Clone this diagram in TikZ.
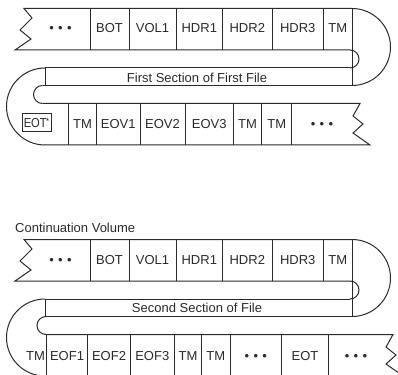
\documentclass[tikz,border=0pt]{standalone}
\usepackage{fontspec}
\setmainfont{Liberation Sans}
\newfontfamily\narrowfont{Liberation Sans}[FakeStretch=0.86]
\definecolor{ink}{HTML}{2A2A2A}
\newcommand\tdots{•\hspace{4.4pt}•\hspace{4.4pt}•}
\begin{document}
\begin{tikzpicture}[x=1pt,y=-1pt,
  tape/.style={draw=ink, line width=1pt, line join=miter},
  lbl/.style={anchor=base, inner sep=0pt, text=ink, font=\fontsize{13}{15}\selectfont},
  eotbox/.style={draw=ink, line width=0.9pt, inner sep=1pt, minimum width=29pt, minimum height=18pt, text=ink, font=\narrowfont\fontsize{13}{15}\selectfont}]
\useasboundingbox (0,0) rectangle (398,374);
\clip (0,0) rectangle (398,374);
% ================= Block 1 =================
\draw[tape] (352,8.5) -- (24,8.5) -- (32,18) -- (20,30) -- (31,39) -- (15,50) -- (350,50);
\draw[tape] (352,8.5) arc[start angle=-90, end angle=90, radius=38.5];
\draw[tape] (352,8.5) -- (352,85.5);
\draw[tape] (350,50) arc[start angle=-90, end angle=90, radius=9];
\draw[tape] (350,68) -- (45,68) -- (45,85.5);
\draw[tape] (42.5,85.5) -- (352,85.5);
\draw[tape] (45,68) arc[start angle=270, end angle=90, radius=38.5];
\draw[tape] (42.5,85.5) arc[start angle=270, end angle=90, radius=9];
\draw[tape] (42.5,103.5) -- (360,103.5) -- (353,116) -- (363,124) -- (353,133) -- (370,145) -- (45,145);
\foreach \x in {90,129,176,222.7,272,323.3} \draw[tape] (\x,8.5) -- (\x,50);
\foreach \x in {68.3,96.7,140,185,233.3,261.7,291.7} \draw[tape] (\x,103.5) -- (\x,145);
% labels top strip
\node[lbl] (a0) at (60.5,33) {\tdots};
\node[lbl] (a1) at (109.5,33) {BOT};
\node[lbl] (a2) at (152.5,33) {VOL1};
\node[lbl] (a3) at (199.3,33) {HDR1};
\node[lbl] (a4) at (247.3,33) {HDR2};
\node[lbl] (a5) at (297.7,33) {HDR3};
\node[lbl] (a6) at (337.7,33) {TM};
\node[lbl] (band1) at (197,83) {First Section of First File};
% bottom strip
\node[eotbox] (b0) at (36.5,122.5) {EOT\kern-0.5pt\raisebox{3pt}{\fontsize{9}{9}\selectfont *}};
\node[lbl] (b1) at (82.5,128.3) {TM};
\node[lbl] (b2) at (118.3,128.3) {EOV1};
\node[lbl] (b3) at (162.5,128.3) {EOV2};
\node[lbl] (b4) at (209.2,128.3) {EOV3};
\node[lbl] (b5) at (247.5,128.3) {TM};
\node[lbl] (b6) at (276.7,128.3) {TM};
\node[lbl] (b7) at (322,128.3) {\tdots};
% ================= Block 2 =================
\node[lbl, anchor=base west] (cv) at (15,232.7) {Continuation Volume};
\begin{scope}[yshift=-231pt]
\draw[tape] (352,8.5) -- (24,8.5) -- (32,18) -- (20,30) -- (31,39) -- (15,50) -- (350,50);
\draw[tape] (352,8.5) arc[start angle=-90, end angle=90, radius=38.5];
\draw[tape] (352,8.5) -- (352,85.5);
\draw[tape] (350,50) arc[start angle=-90, end angle=90, radius=9];
\draw[tape] (350,68) -- (45,68) -- (45,85.5);
\draw[tape] (46,85.5) -- (352,85.5);
\draw[tape] (45,68) arc[start angle=270, end angle=90, radius=38.5];
\draw[tape] (46,85.5) arc[start angle=270, end angle=90, radius=9];
\draw[tape] (46,103.5) -- (393,103.5) -- (386,116) -- (396,124) -- (386,133) -- (403,145) -- (45,145);
\foreach \x in {90,129,176,222.7,272,323.3} \draw[tape] (\x,8.5) -- (\x,50);
\foreach \x in {46.7,87.3,130.7,174,201.7,230,281.7,328.3} \draw[tape] (\x,103.5) -- (\x,145);
\node[lbl] (c0) at (60.5,33) {\tdots};
\node[lbl] (c1) at (109.5,33) {BOT};
\node[lbl] (c2) at (152.5,33) {VOL1};
\node[lbl] (c3) at (199.3,33) {HDR1};
\node[lbl] (c4) at (247.3,33) {HDR2};
\node[lbl] (c5) at (297.7,33) {HDR3};
\node[lbl] (c6) at (337.7,33) {TM};
\node[lbl] (band2) at (197,81.5) {Second Section of File};
\node[lbl] (d0) at (35.5,129) {TM};
\node[lbl] (d1) at (67,129) {EOF1};
\node[lbl] (d2) at (109,129) {EOF2};
\node[lbl] (d3) at (152.3,129) {EOF3};
\node[lbl] (d4) at (188,129) {TM};
\node[lbl] (d5) at (215.8,129) {TM};
\node[lbl] (d6) at (255.8,129) {\tdots};
\node[lbl] (d7) at (305,129) {EOT};
\node[lbl] (d8) at (356,129) {\tdots};
\end{scope}
\end{tikzpicture}
\end{document}
